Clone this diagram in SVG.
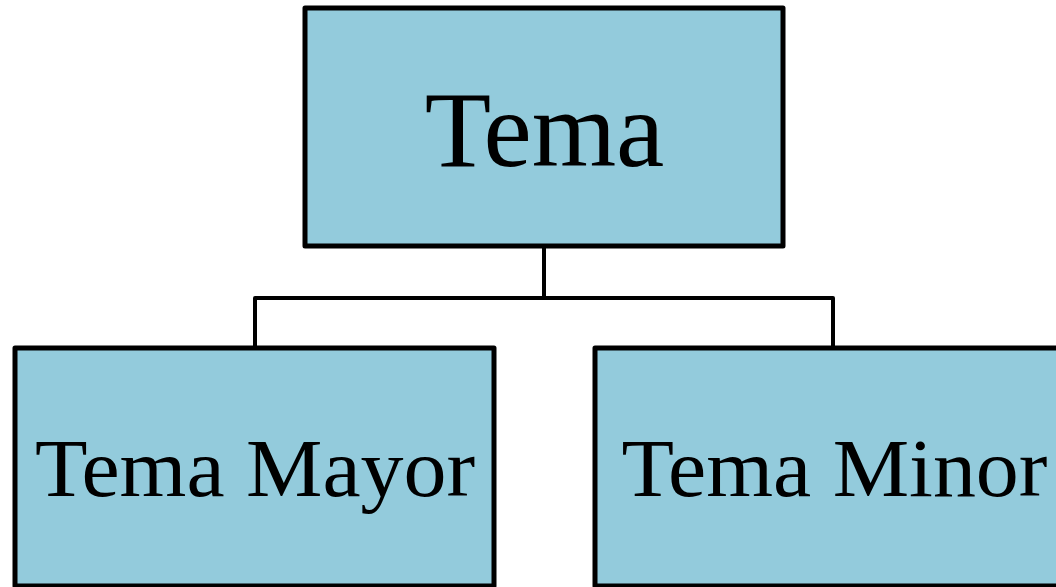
<svg xmlns="http://www.w3.org/2000/svg" width="1056" height="587" viewBox="0 0 1056 587">
  <style>
    .box { fill: #93CBDC; stroke: #000; stroke-width: 5; stroke-linejoin: round; }
    .wire { fill: none; stroke: #000; stroke-width: 4; stroke-linejoin: round; }
    .label { font-family: "Liberation Serif", "Times New Roman", serif; fill: #000; text-anchor: middle; }
    .big { font-size: 107px; }
    .mid { font-size: 82px; }
  </style>
  <rect width="1056" height="587" fill="#fff"/>
  <g id="connectors">
    <path class="wire" d="M544 246 V298 H255 V348"/>
    <path class="wire" d="M544 298 H833 V348"/>
  </g>
  <g id="tema">
    <rect class="box" x="305" y="8" width="478" height="238"/>
    <text class="label big" transform="translate(544.5 166) scale(1.015 1)">Tema</text>
  </g>
  <g id="tema-mayor">
    <rect class="box" x="15" y="348" width="479" height="238"/>
    <text class="label mid" transform="translate(255 496) scale(1.048 1)">Tema Mayor</text>
  </g>
  <g id="tema-minor">
    <rect class="box" x="595" y="348" width="479" height="238"/>
    <text class="label mid" transform="translate(834.5 496) scale(1.048 1)">Tema Minor</text>
  </g>
</svg>
